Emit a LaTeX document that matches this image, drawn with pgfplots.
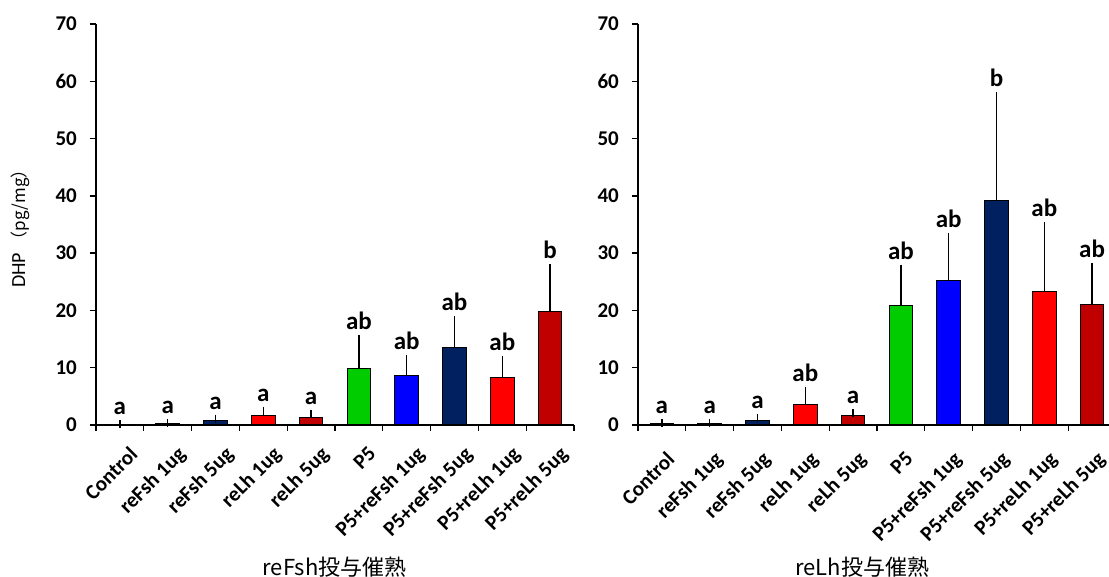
\documentclass[border=0pt]{standalone}
\usepackage{pgfplots}
\pgfplotsset{compat=1.18}
\usepackage{pgfplotstable}
\usepackage{fontspec}
\setmainfont{Carlito}
\newfontfamily\cjk{Noto Sans CJK JP}
\definecolor{c0}{HTML}{202020}
\definecolor{c1}{HTML}{0000FF}
\definecolor{c2}{HTML}{002060}
\definecolor{c3}{HTML}{FF0000}
\definecolor{c4}{HTML}{C00000}
\definecolor{c5}{HTML}{00CC00}
\definecolor{c6}{HTML}{0000FF}
\definecolor{c7}{HTML}{002060}
\definecolor{c8}{HTML}{FF0000}
\definecolor{c9}{HTML}{C00000}

\pgfplotstableread{
x y e lab
0 0.1 0.1 a
1 0.2 0.1 a
2 0.8 0.3 a
3 1.6 0.9 a
4 1.3 0.7 a
5 9.9 5.1 ab
6 8.6 2.9 ab
7 13.6 4.8 ab
8 8.3 3.0 ab
9 19.8 7.6 b
}\tabL

\pgfplotstableread{
x y e lab
0 0.2 0.1 a
1 0.2 0.1 a
2 0.8 0.4 a
3 3.5 2.4 ab
4 1.6 0.5 a
5 20.8 6.5 ab
6 25.2 7.6 ab
7 39.2 18.3 b
8 23.3 11.4 ab
9 21.1 6.5 ab
}\tabR

\pgfplotsset{
  my/.style={
    scale only axis, width=478pt, height=401pt, anchor=south west,
    axis lines*=left, axis line style={black, line width=1.3pt},
    xmin=-0.5, xmax=9.5, ymin=0, ymax=70,
    ytick={0,10,...,70},
    xtick={0,...,9}, major x tick style={draw=none},
    minor xtick={-0.5,0.5,...,9.5},
    tick align=outside, major tick length=6pt, minor tick length=6pt,
    every tick/.style={black, line width=1.3pt},
    minor x tick style={black, line width=1.3pt},
    /pgf/number format/assume math mode=true,
    yticklabel style={font=\bfseries\fontsize{21}{21}\selectfont, inner sep=0pt, xshift=-13pt},
    xticklabel style={font=\bfseries\fontsize{21}{21}\selectfont, rotate=45, anchor=north east, inner sep=0pt, yshift=-16pt, xshift=-4pt},
    xticklabels={Control, reFsh 1ug, reFsh 5ug, reLh 1ug, reLh 5ug, P5, P5+reFsh 1ug, P5+reFsh 5ug, P5+reLh 1ug, P5+reLh 5ug},
    clip=false,
  },
  bb/.style={ybar, bar width=23.6pt, bar shift=0pt, draw=black, line width=1.1pt, fill=c#1,
    error bars/.cd, y dir=plus, y explicit,
    error bar style={black, line width=1.3pt},
    error mark options={black, line width=1.3pt, mark size=4pt}},
  lets/.style={draw=none, mark=none, nodes near coords, point meta=explicit symbolic,
    nodes near coords style={anchor=south, inner sep=0pt, yshift=9pt, font=\bfseries\fontsize{25}{25}\selectfont}},
}

\begin{document}
\begin{tikzpicture}
\useasboundingbox (0,0) rectangle (1109pt,577pt);
\begin{axis}[my, at={(96pt,152pt)},
  xlabel={\cjk\fontsize{22}{22}\selectfont reFsh投与催熟},
  xlabel style={at={(axis description cs:0.499,-0.354)}, anchor=center},
  ylabel={\fontsize{20}{20}\selectfont DHP {\cjk\fontsize{17}{17}\selectfont （pg/mg）}},
  ylabel style={at={(axis description cs:-0.159,0.5)}, anchor=center}]
\pgfplotsinvokeforeach{0,...,9}{
  \addplot[bb=#1] table[x=x, y=y, y error=e, restrict x to domain=#1:#1] \tabL;
}
\addplot[lets] table[x=x, y expr=\thisrow{y}+\thisrow{e}, meta=lab] \tabL;
\end{axis}
\begin{axis}[my, at={(638pt,152pt)},
  xticklabel style={xshift=-7pt},
  xlabel={\cjk\fontsize{22}{22}\selectfont reLh投与催熟},
  xlabel style={at={(axis description cs:0.469,-0.354)}, anchor=center}]
\pgfplotsinvokeforeach{0,...,9}{
  \addplot[bb=#1] table[x=x, y=y, y error=e, restrict x to domain=#1:#1] \tabR;
}
\addplot[lets] table[x=x, y expr=\thisrow{y}+\thisrow{e}, meta=lab] \tabR;
\end{axis}
\end{tikzpicture}
\end{document}
